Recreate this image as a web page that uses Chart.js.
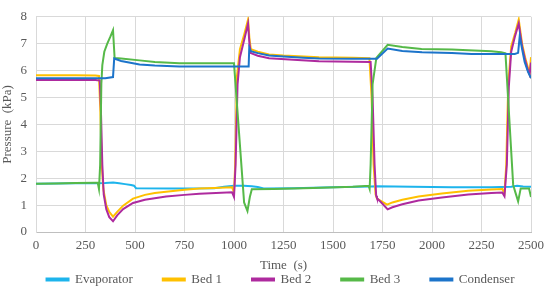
<!DOCTYPE html>
<html>
<head>
<meta charset="utf-8">
<script src="https://cdn.jsdelivr.net/npm/chart.js@4.4.1/dist/chart.umd.min.js"></script>
<style>
  html, body { margin: 0; padding: 0; background: #fff; }
  #wrap { width: 550px; height: 290px; }
</style>
</head>
<body>
<div id="wrap"><canvas id="chart"></canvas></div>
<script>
// time (s) and pressure (kPa), one pair of arrays per series
const evapT = [0, 100, 200, 300, 350, 390, 420, 450, 480, 495, 505, 700, 900, 950, 1000, 1050, 1090, 1120, 1150, 1300, 1500, 1690, 1720, 1900, 2100, 2300, 2400, 2430, 2460, 2500];
const evapP = [1.79, 1.80, 1.81, 1.81, 1.82, 1.84, 1.81, 1.78, 1.75, 1.72, 1.63, 1.62, 1.63, 1.68, 1.72, 1.72, 1.70, 1.67, 1.62, 1.63, 1.66, 1.69, 1.70, 1.68, 1.66, 1.66, 1.68, 1.72, 1.69, 1.68];

const bed1T = [0, 100, 200, 300, 318, 325, 332, 340, 355, 370, 389, 410, 440, 490, 550, 600, 657, 750, 825, 900, 990, 1000, 1006, 1015, 1030, 1050, 1071, 1078, 1085, 1120, 1177, 1250, 1429, 1600, 1684, 1695, 1705, 1715, 1722, 1750, 1773, 1800, 1850, 1932, 2050, 2183, 2300, 2355, 2366, 2375, 2385, 2400, 2420, 2438, 2455, 2470, 2485, 2493, 2500];
const bed1P = [5.83, 5.83, 5.83, 5.82, 5.80, 4.5, 2.5, 1.6, 1.0, 0.75, 0.57, 0.75, 0.98, 1.24, 1.38, 1.45, 1.50, 1.57, 1.62, 1.64, 1.66, 1.48, 2.5, 5.8, 6.8, 7.3, 7.9, 7.2, 6.8, 6.7, 6.6, 6.56, 6.5, 6.48, 6.46, 5.0, 2.5, 1.4, 1.24, 1.12, 1.02, 1.10, 1.20, 1.32, 1.43, 1.53, 1.58, 1.60, 1.45, 2.5, 5.5, 6.9, 7.4, 7.9, 7.0, 6.5, 6.1, 5.9, 6.5];

const bed2T = [0, 300, 322, 328, 335, 342, 355, 370, 389, 410, 440, 490, 550, 657, 750, 825, 990, 1000, 1008, 1018, 1030, 1050, 1071, 1078, 1085, 1120, 1177, 1300, 1429, 1600, 1690, 1700, 1710, 1718, 1722, 1750, 1776, 1800, 1850, 1932, 2050, 2183, 2300, 2355, 2366, 2378, 2388, 2400, 2420, 2438, 2455, 2470, 2485, 2493, 2500];
const bed2P = [5.65, 5.65, 5.63, 4.5, 2.5, 1.4, 0.85, 0.55, 0.40, 0.62, 0.85, 1.08, 1.20, 1.32, 1.38, 1.42, 1.48, 1.30, 2.5, 5.5, 6.5, 7.1, 7.75, 7.0, 6.65, 6.55, 6.46, 6.40, 6.35, 6.33, 6.32, 5.0, 2.5, 1.35, 1.26, 1.05, 0.84, 0.92, 1.03, 1.17, 1.28, 1.39, 1.45, 1.47, 1.33, 2.5, 5.4, 6.7, 7.3, 7.75, 6.9, 6.4, 6.0, 5.85, 6.3];

const bed3T = [0, 100, 200, 300, 312, 318, 324, 330, 335, 345, 360, 375, 389, 397, 430, 523, 600, 724, 850, 1000, 1051, 1068, 1080, 1090, 1200, 1400, 1600, 1680, 1685, 1690, 1700, 1719, 1776, 1850, 1947, 2100, 2183, 2300, 2349, 2371, 2410, 2420, 2435, 2448, 2490, 2500];
const bed3P = [1.79, 1.80, 1.82, 1.83, 1.83, 1.60, 2.5, 5.5, 6.2, 6.7, 7.0, 7.25, 7.5, 6.47, 6.45, 6.38, 6.32, 6.27, 6.27, 6.27, 1.1, 0.78, 1.3, 1.59, 1.60, 1.64, 1.68, 1.72, 1.60, 2.5, 5.5, 6.47, 6.96, 6.88, 6.80, 6.78, 6.76, 6.72, 6.68, 6.64, 1.75, 1.5, 1.14, 1.62, 1.62, 1.3];

const condT = [0, 100, 200, 300, 350, 389, 395, 430, 523, 600, 724, 900, 1074, 1077, 1085, 1120, 1177, 1250, 1350, 1430, 1600, 1722, 1776, 1850, 1950, 2100, 2200, 2350, 2418, 2435, 2443, 2455, 2468, 2485, 2500];
const condP = [5.72, 5.72, 5.72, 5.72, 5.72, 5.76, 6.45, 6.36, 6.23, 6.19, 6.15, 6.15, 6.15, 6.85, 6.72, 6.65, 6.56, 6.52, 6.48, 6.45, 6.44, 6.44, 6.82, 6.73, 6.68, 6.65, 6.62, 6.62, 6.62, 6.66, 7.28, 6.8, 6.32, 5.95, 5.72];

const seriesNames = ['Evaporator', 'Bed 1', 'Bed 2', 'Bed 3', 'Condenser'];
const seriesColors = ['#1DB4EC', '#FFC000', '#AE2A9E', '#56B948', '#1C74CA'];

const xTicksStep = 250;
const yTicksStep = 1;

function toPoints(ts, ps) {
  return ts.map((t, i) => ({ x: t, y: ps[i] }));
}

const allSeries = [
  toPoints(evapT, evapP),
  toPoints(bed1T, bed1P),
  toPoints(bed2T, bed2P),
  toPoints(bed3T, bed3P),
  toPoints(condT, condP)
];

// later series drawn on top, like the original
const datasets = allSeries.map((pts, i) => ({
  label: seriesNames[i],
  data: pts,
  borderColor: seriesColors[i],
  backgroundColor: seriesColors[i],
  borderWidth: 2,
  pointRadius: 0,
  tension: 0,
  fill: false,
  order: allSeries.length - i
}));

const textColor = '#595959';
const gridColor = '#D9D9D9';
const font = { family: '"Liberation Serif", "Times New Roman", serif', size: 13 };

// Keep the legend row short so the axes keep their room, then move it into place
const legendSpacing = {
  id: 'legendSpacing',
  beforeInit(chart) {
    const fit = chart.legend.fit;
    chart.legend.fit = function () {
      fit.call(this);
      this.height = 17;
    };
  },
  afterLayout(chart) {
    chart.legend.top -= 30;
    chart.legend.left += 14;
    chart.legend.right += 14;
  }
};

new Chart(document.getElementById('chart'), {
  type: 'line',
  data: { datasets },
  plugins: [legendSpacing],
  options: {
    responsive: true,
    maintainAspectRatio: false,
    animation: false,
    layout: { padding: { left: 0, right: 17, top: 10, bottom: 0 } },
    scales: {
      x: {
        type: 'linear',
        min: 0,
        max: 2500,
        grid: { color: gridColor, drawTicks: false },
        border: { color: '#BFBFBF' },
        ticks: {
          stepSize: xTicksStep, color: textColor, font, padding: 6, maxRotation: 0,
          callback: v => String(v)
        },
        title: { display: true, text: 'Time  (s)', color: textColor, font, padding: { top: 0, bottom: 0 } },
        afterFit(scale) { scale.height = 41; }
      },
      y: {
        min: 0,
        max: 8,
        grid: { color: gridColor, drawTicks: false },
        border: { color: gridColor },
        ticks: { stepSize: yTicksStep, color: textColor, font, padding: 9 },
        title: { display: true, text: 'Pressure  (kPa)', color: textColor, font, padding: { top: 0, bottom: 0 } },
        afterFit(scale) { scale.width = 36; }
      }
    },
    plugins: {
      legend: {
        position: 'bottom',
        labels: {
          boxWidth: 22, boxHeight: 2, padding: 30, color: textColor, font,
          sort: (a, b) => a.datasetIndex - b.datasetIndex
        }
      },
      tooltip: { enabled: false }
    }
  }
});
</script>
</body>
</html>
